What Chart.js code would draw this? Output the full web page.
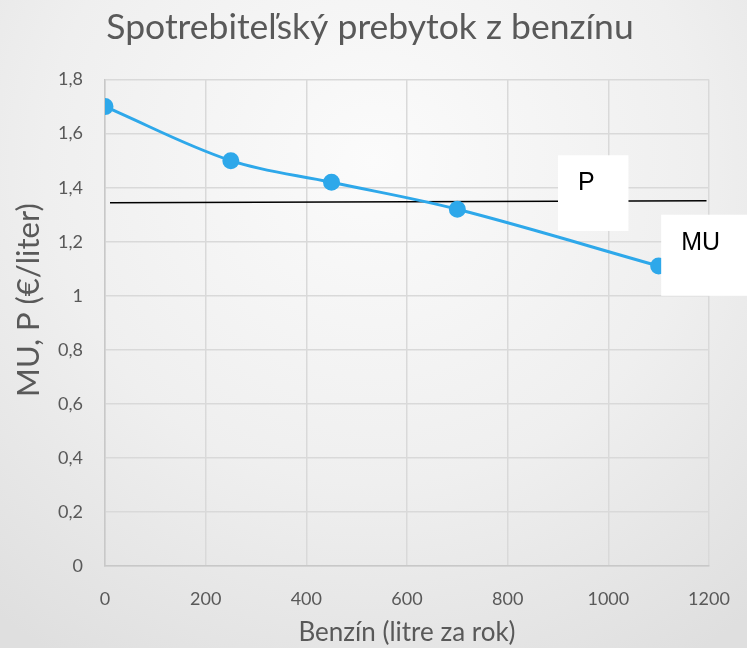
<!DOCTYPE html>
<html>
<head>
<meta charset="utf-8">
<script src="https://cdn.jsdelivr.net/npm/chart.js@4/dist/chart.umd.min.js"></script>
<style>
  html, body { margin: 0; padding: 0; }
  body {
    width: 747px; height: 648px; overflow: hidden;
    background: radial-gradient(ellipse 80% 90% at 50% 25%, #fbfbfb 0%, #efefef 55%, #dfdfdf 100%);
  }
  #wrap { width: 747px; height: 648px; }
</style>
</head>
<body>
<div id="wrap"><canvas id="chart" width="747" height="648"></canvas></div>
<script>
// data
const muX = [0, 250, 450, 700, 1100];
const muY = [1.7, 1.5, 1.42, 1.32, 1.11];
const priceX = [10, 1195];
const priceY = [1.344, 1.352];
const xTicks = [0, 200, 400, 600, 800, 1000, 1200];

// label boxes (data units: left, right, top, bottom)
const labels = [
  { text: "P", box: [900, 1040, 1.52, 1.24] },
  { text: "MU", box: [1105, 1300, 1.30, 1.0] }
];

const gray = "#595959";
const font = "Lato, 'Open Sans', sans-serif";

const extras = {
  id: "extras",
  afterDatasetsDraw(chart) {
    const { ctx, scales: { x, y } } = chart;
    ctx.save();
    labels.forEach(l => {
      const x0 = x.getPixelForValue(l.box[0]);
      const x1 = x.getPixelForValue(l.box[1]);
      const y0 = y.getPixelForValue(l.box[2]);
      const y1 = y.getPixelForValue(l.box[3]);
      ctx.fillStyle = "#ffffff";
      ctx.fillRect(x0, y0, x1 - x0, y1 - y0);
      ctx.fillStyle = "#000000";
      ctx.font = "25px 'Liberation Sans', Arial, sans-serif";
      ctx.textBaseline = "middle";
      ctx.fillText(l.text, x0 + 20, y0 + 28);
    });
    // y axis title, sits a bit above the middle like the original
    ctx.translate(29, 300);
    ctx.rotate(-Math.PI / 2);
    ctx.fillStyle = gray;
    ctx.font = "31px " + font;
    ctx.textAlign = "center";
    ctx.textBaseline = "middle";
    ctx.fillText("MU, P (€/liter)", 0, 0);
    ctx.restore();
  }
};

new Chart(document.getElementById("chart"), {
  type: "scatter",
  data: {
    datasets: [
      {
        label: "MU",
        data: muX.map((v, i) => ({ x: v, y: muY[i] })),
        showLine: true,
        borderColor: "#2EA8EA",
        backgroundColor: "#2EA8EA",
        borderWidth: 3,
        pointRadius: 7,
        tension: 0.35
      },
      {
        label: "P",
        data: priceX.map((v, i) => ({ x: v, y: priceY[i] })),
        showLine: true,
        borderColor: "#000000",
        borderWidth: 1.5,
        pointRadius: 0
      }
    ]
  },
  plugins: [extras],
  options: {
    responsive: false,
    animation: false,
    layout: { padding: { left: 31, right: 38, top: 0, bottom: 0 } },
    plugins: {
      legend: { display: false },
      tooltip: { enabled: false },
      title: {
        display: true,
        text: "Spotrebiteľský prebytok z benzínu",
        color: gray,
        font: { family: font, size: 35.5, weight: "normal" },
        padding: { top: 6, bottom: 31 }
      }
    },
    scales: {
      x: {
        type: "linear",
        min: 0, max: 1200,
        afterBuildTicks: s => { s.ticks = xTicks.map(v => ({ value: v })); },
        afterFit: s => { s.height = 82; s.paddingLeft = 0; s.paddingRight = 0; },
        grid: { color: "#d9d9d9", lineWidth: 1.5, drawTicks: false },
        border: { color: "#c8c8c8", width: 1.5 },
        ticks: {
          color: gray, padding: 22,
          font: { family: font, size: 18 },
          callback: v => String(v)
        },
        title: {
          display: true, text: "Benzín (litre za rok)", color: gray,
          font: { family: font, size: 26 },
          padding: { top: 0, bottom: 0 }
        }
      },
      y: {
        min: 0, max: 1.8,
        afterFit: s => { s.width = 74; },
        grid: { color: "#d9d9d9", lineWidth: 1.5, drawTicks: false },
        border: { color: "#c8c8c8", width: 1.5 },
        ticks: {
          stepSize: 0.2, color: gray, padding: 22,
          font: { family: font, size: 18 },
          callback: v => (Math.round(v * 10) / 10).toString().replace(".", ",")
        },
        title: { display: false }
      }
    }
  }
});
</script>
</body>
</html>
